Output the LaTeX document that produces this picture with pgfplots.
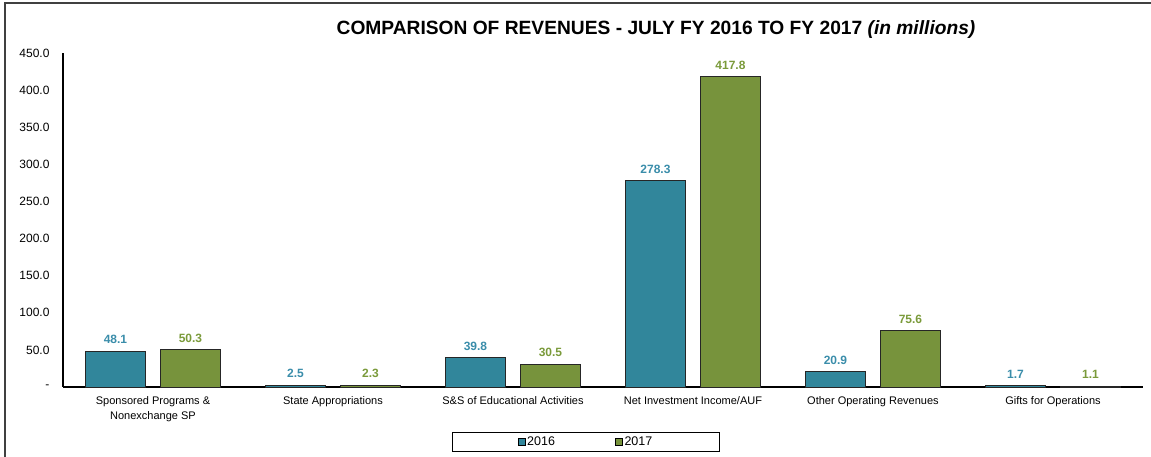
\documentclass[border=0pt]{standalone}
\usepackage{pgfplots}
\pgfplotsset{compat=1.18}
\usepackage{fontspec}
\setmainfont{Liberation Sans}
\definecolor{cblue}{HTML}{31869B}
\definecolor{cgreen}{HTML}{77933C}
\definecolor{lblue}{HTML}{3A8DAA}
\definecolor{lgreen}{HTML}{7A9A3A}
\begin{document}
\begin{tikzpicture}
\useasboundingbox (-63pt,-70pt) rectangle (1088pt,387pt);
\draw[line width=1.2pt,color=black!75] (-58pt,-80pt) -- (-58pt,384pt) -- (1100pt,384pt);
\begin{axis}[
  at={(0pt,0pt)}, anchor=south west,
  scale only axis, width=1080pt, height=334pt,
  ybar, bar width=60pt,
  xmin=-0.5, xmax=5.5, ymin=0, ymax=450,
  axis x line*=bottom, axis y line*=left,
  axis line style={line width=1.4pt, black},
  major tick length=0pt,
  xtick=data,
  xticklabels={{Sponsored Programs \&\\Nonexchange SP},{State Appropriations},{S\&S of Educational Activities},{Net Investment Income/AUF},{Other Operating Revenues},{Gifts for Operations}},
  xticklabel style={font=\fontsize{11}{14.5}\selectfont, align=center, yshift=-6pt},
  ytick={0,50,...,450},
  yticklabels={-\hspace{6pt},50.0,100.0,150.0,200.0,250.0,300.0,350.0,400.0,450.0},
  yticklabel style={font=\fontsize{12}{14}\selectfont, xshift=-10pt},
  /pgf/number format/.cd, fixed, precision=1, fixed zerofill, assume math mode=true,
  /pgfplots/.cd,
  nodes near coords,
  every node near coord/.append style={font=\fontsize{12}{14}\selectfont\bfseries, yshift=3.5pt},
  legend columns=2,
  legend style={at={(523pt,-55pt)}, anchor=center, draw=black, line width=0.6pt,
    font=\fontsize{12.5}{14}\selectfont, inner xsep=65pt, inner ysep=2.5pt,
    /tikz/every even column/.append style={column sep=58pt}},
  legend image code/.code={\draw[#1,draw=black,line width=0.5pt] (0pt,-3.5pt) rectangle (7pt,3.5pt);},
  clip=false,
]
\addplot+[bar shift=-37.5pt, fill=cblue, draw=black!85, line width=0.8pt,
  every node near coord/.append style={color=lblue}]
  coordinates {(0,48.1) (1,2.5) (2,39.8) (3,278.3) (4,20.9) (5,1.7)};
\addplot+[bar shift=37.5pt, fill=cgreen, draw=black!85, line width=0.8pt,
  every node near coord/.append style={color=lgreen}]
  coordinates {(0,50.3) (1,2.3) (2,30.5) (3,417.8) (4,75.6) (5,1.1)};
\legend{2016,2017}
\end{axis}
\node[font=\fontsize{19.2}{22}\selectfont\bfseries] at (593pt,357pt) {COMPARISON OF REVENUES - JULY FY 2016 TO FY 2017 \textit{(in millions)}};
\end{tikzpicture}
\end{document}
